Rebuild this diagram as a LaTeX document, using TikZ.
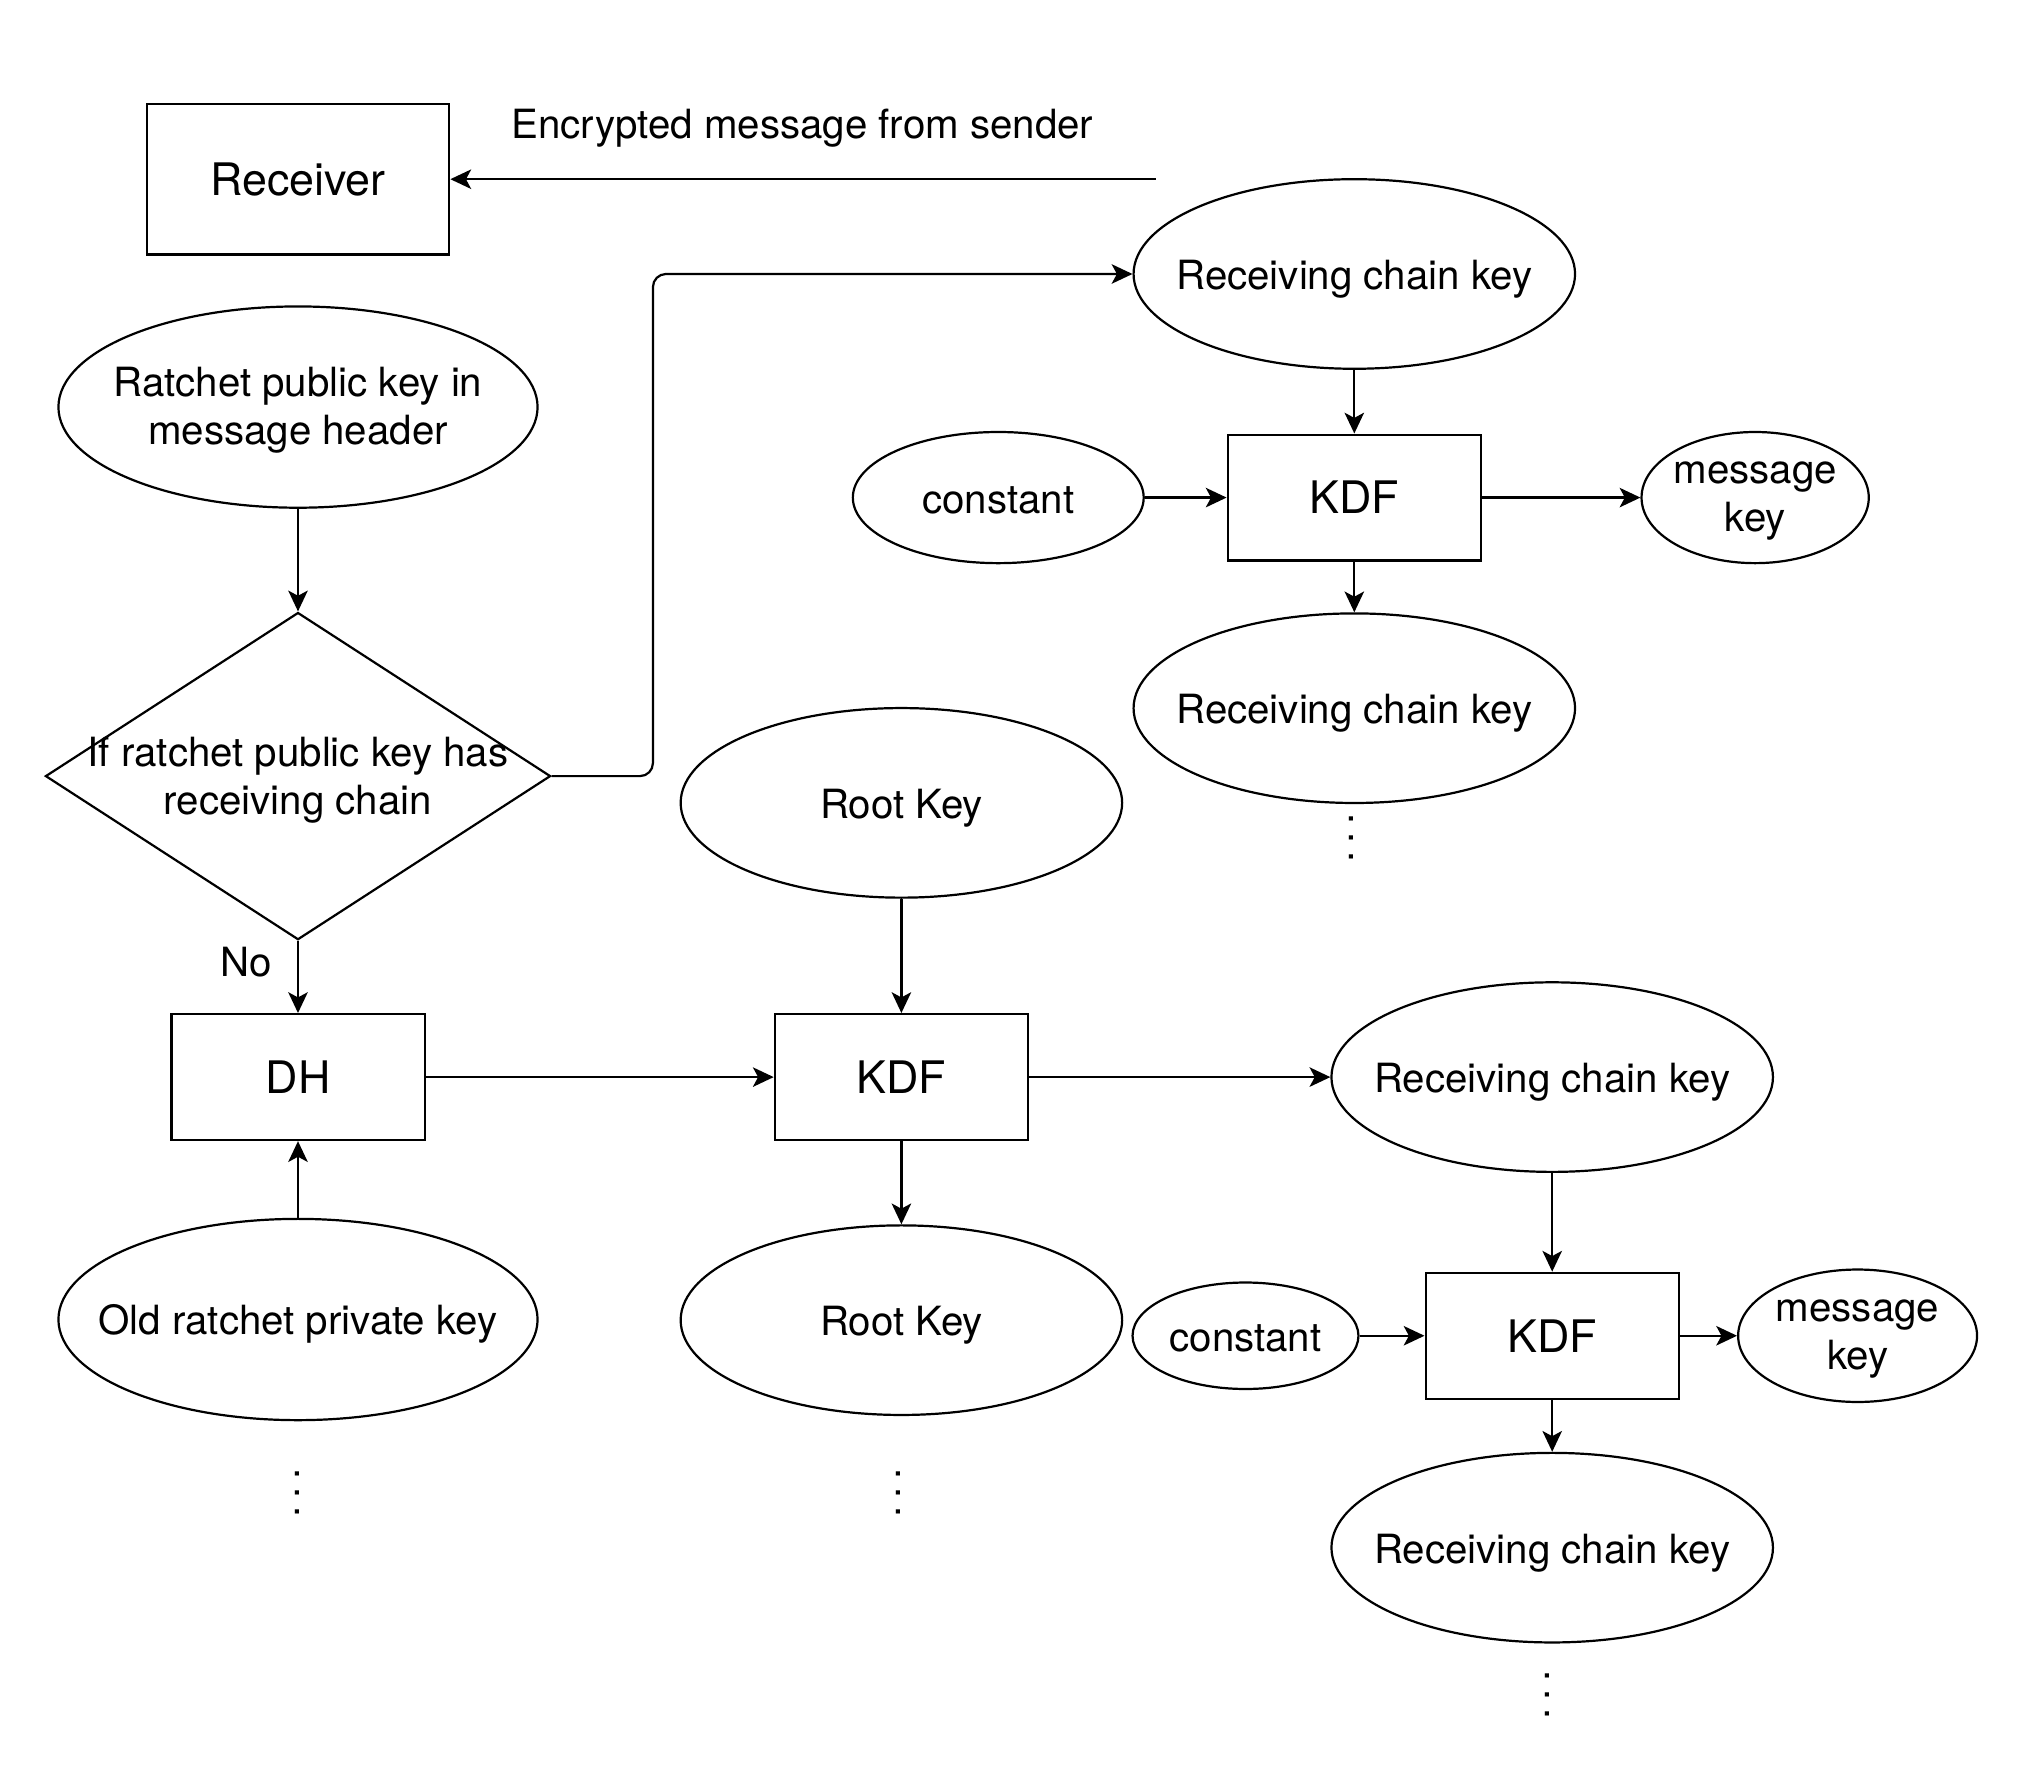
\documentclass[tikz,border=0pt]{standalone}
\usepackage{fontspec}
\setmainfont{TeX Gyre Heros}
\usetikzlibrary{positioning,shapes.geometric,arrows.meta}
\tikzset{
  box/.style={draw, rectangle, inner sep=0pt, minimum width=195pt, minimum height=97pt,
    font=\fontsize{34.5}{41}\selectfont},
  key/.style={draw, ellipse, inner sep=0pt, minimum width=340pt, minimum height=146pt,
    label={[align=center, yshift=-4.5pt, execute at begin node=\strut]center:#1}},
  more/.style={rotate=90, inner sep=0pt},
  arr/.style={-{Stealth[length=16pt,width=15pt,inset=4pt]}},
}

\begin{document}
\begin{tikzpicture}[x=1pt, y=-1pt, line width=1.7pt, font=\fontsize{31}{37}\selectfont]
  \useasboundingbox (0,0) rectangle (1568,1366);

  % receiver and incoming message
  \node[box, minimum width=233pt, minimum height=116pt] (recv) at (229.5,138) {Receiver};
  \node (enc) at (618,99) {Encrypted message from sender};
  \coordinate (sender) at (890,138);

  % left column
  \node[key={Ratchet public key in\\message header}, minimum width=369pt, minimum height=155pt] (pubkey) at (229.5,313.5) {};
  \node[draw, diamond, inner sep=0pt, minimum width=389pt, minimum height=252pt,
        label={[align=center, yshift=-5pt, execute at begin node=\strut]center:If ratchet public key has\\receiving chain}] (check) [below=79pt of pubkey] {};
  \node[box] (dh) at (229.5,829.5) {DH};
  \node[key={Old ratchet private key}, minimum width=369pt, minimum height=155pt] (oldkey) [below=59pt of dh] {};

  % root chain
  \node[box] (kdf2) [right=268pt of dh] {KDF};
  \node[key={Root Key}] (root1) [above=88pt of kdf2] {};
  \node[key={Root Key}] (root2) [below=64pt of kdf2] {};

  % existing receiving chain
  \node[key={Receiving chain key}] (rck1) at (1043,211) {};
  \node[box] (kdf1) [below=49pt of rck1] {KDF};
  \node[key={constant}, minimum width=224pt, minimum height=101pt] (const1) [left=63pt of kdf1] {};
  \node[key={message\\key}, minimum width=175pt, minimum height=101pt] (msg1) [right=122pt of kdf1] {};
  \node[key={Receiving chain key}] (rck2) [below=39pt of kdf1] {};

  % new receiving chain
  \node[key={Receiving chain key}] (rck3) [right=232pt of kdf2] {};
  \node[box] (kdf3) [below=76pt of rck3] {KDF};
  \node[key={constant}, minimum width=174pt, minimum height=82pt] (const2) [left=50pt of kdf3] {};
  \node[key={message\\key}, minimum width=184pt, minimum height=102pt] (msg2) [right=44pt of kdf3] {};
  \node[key={Receiving chain key}] (rck4) [below=40pt of kdf3] {};

  % continuation marks
  \node[more] (more1) at (1041,645) {.\kern6pt.\kern6pt.};
  \node[more] (more2) at (229,1150) {.\kern6pt.\kern6pt.};
  \node[more] (more3) at (692,1150) {.\kern6pt.\kern6pt.};
  \node[more] (more4) at (1192,1305) {.\kern6pt.\kern6pt.};

  \draw[arr] (sender) -- (recv);
  \draw[arr] (pubkey) -- (check);
  \draw[arr] (check) -- node[pos=0.3, left=16pt] {No} (dh);
  \draw[arr] (oldkey) -- (dh);
  \draw[arr] (dh) -- (kdf2);
  \draw[arr] (root1) -- (kdf2);
  \draw[arr] (kdf2) -- (root2);
  \draw[arr] (kdf2) -- (rck3);
  \draw[arr, rounded corners=10pt] (check.east) -- ++(78,0) |- (rck1.west);
  \draw[arr] (rck1) -- (kdf1);
  \draw[arr] (const1) -- (kdf1);
  \draw[arr] (kdf1) -- (msg1);
  \draw[arr] (kdf1) -- (rck2);
  \draw[arr] (rck3) -- (kdf3);
  \draw[arr] (const2) -- (kdf3);
  \draw[arr] (kdf3) -- (msg2);
  \draw[arr] (kdf3) -- (rck4);
\end{tikzpicture}
\end{document}
